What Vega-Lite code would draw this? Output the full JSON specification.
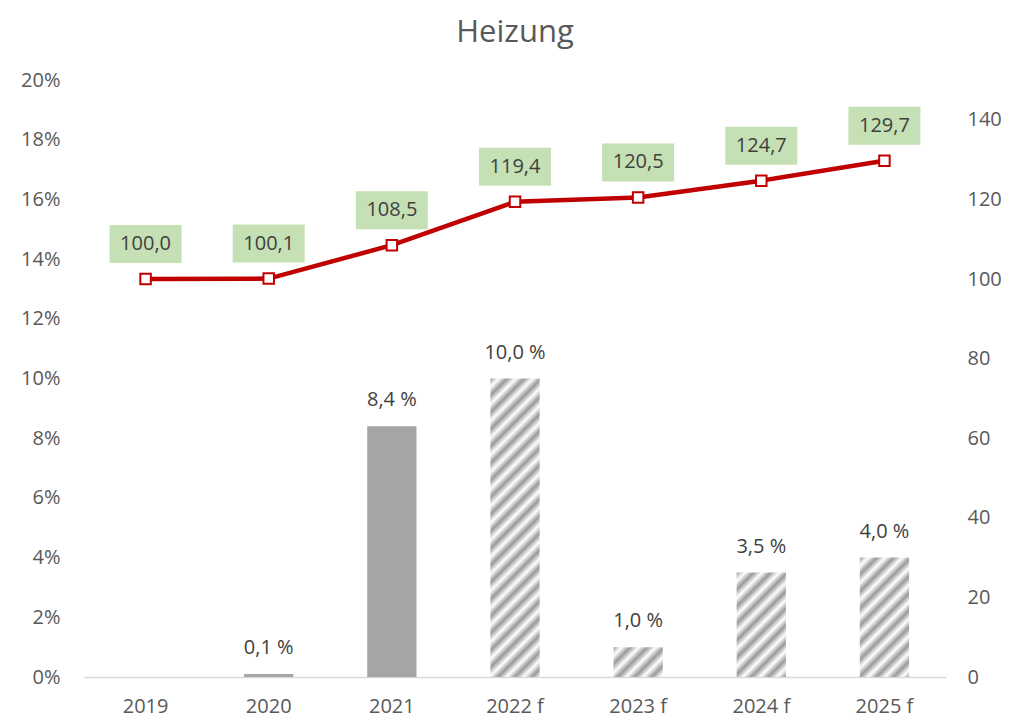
{
  "$schema": "https://vega.github.io/schema/vega-lite/v6.json",
  "width": 862,
  "height": 597,
  "autosize": {"type": "none"},
  "padding": {"left": 84, "top": 80, "right": 63, "bottom": 40},
  "background": "white",
  "title": {"text": "Heizung", "font": "Open Sans", "fontSize": 31, "fontWeight": "normal", "color": "#595959", "anchor": "middle", "frame": "group", "offset": 21},
  "config": {"view": {"stroke": null}, "font": "Open Sans"},
  "data": {"values": [
    {"year": "2019", "pct": 0, "pctLabel": "", "idx": 100.0, "idxLabel": "100,0", "forecast": false},
    {"year": "2020", "pct": 0.001, "pctLabel": "0,1 %", "idx": 100.1, "idxLabel": "100,1", "forecast": false},
    {"year": "2021", "pct": 0.084, "pctLabel": "8,4 %", "idx": 108.5, "idxLabel": "108,5", "forecast": false},
    {"year": "2022 f", "pct": 0.10, "pctLabel": "10,0 %", "idx": 119.4, "idxLabel": "119,4", "forecast": true},
    {"year": "2023 f", "pct": 0.01, "pctLabel": "1,0 %", "idx": 120.5, "idxLabel": "120,5", "forecast": true},
    {"year": "2024 f", "pct": 0.035, "pctLabel": "3,5 %", "idx": 124.7, "idxLabel": "124,7", "forecast": true},
    {"year": "2025 f", "pct": 0.04, "pctLabel": "4,0 %", "idx": 129.7, "idxLabel": "129,7", "forecast": true}
  ]},
  "encoding": {
    "x": {"field": "year", "type": "nominal", "sort": null, "title": null,
      "scale": {"paddingInner": 0.6, "paddingOuter": 0.3},
      "axis": {"labelAngle": 0, "labelFontSize": 20, "labelColor": "#595959", "labelPadding": 19, "ticks": false, "domainColor": "#d9d9d9", "domainWidth": 1.5, "grid": false}}
  },
  "layer": [
    {
      "encoding": {
        "y": {"field": "pct", "type": "quantitative", "title": null,
          "scale": {"domain": [0, 0.2], "nice": false, "zero": true},
          "axis": {"orient": "left", "values": [0, 0.02, 0.04, 0.06, 0.08, 0.1, 0.12, 0.14, 0.16, 0.18, 0.2], "format": ".0%", "labelFontSize": 20, "labelColor": "#595959", "labelPadding": 24, "ticks": false, "domain": false, "grid": false}}
      },
      "layer": [
        {"transform": [{"filter": "!datum.forecast"}], "mark": {"type": "bar", "color": "#a5a5a5"}},
        {"transform": [{"filter": "datum.year === '2022 f'"}], "mark": {"type": "bar", "color": {"gradient": "linear", "x1": 0, "y1": 0, "x2": 0.19213, "y2": 1.16427, "stops": [{"offset":0,"color":"#999999"},{"offset":0.0238,"color":"#ffffff"},{"offset":0.0476,"color":"#999999"},{"offset":0.0714,"color":"#ffffff"},{"offset":0.0952,"color":"#999999"},{"offset":0.119,"color":"#ffffff"},{"offset":0.1429,"color":"#999999"},{"offset":0.1667,"color":"#ffffff"},{"offset":0.1905,"color":"#999999"},{"offset":0.2143,"color":"#ffffff"},{"offset":0.2381,"color":"#999999"},{"offset":0.2619,"color":"#ffffff"},{"offset":0.2857,"color":"#999999"},{"offset":0.3095,"color":"#ffffff"},{"offset":0.3333,"color":"#999999"},{"offset":0.3571,"color":"#ffffff"},{"offset":0.381,"color":"#999999"},{"offset":0.4048,"color":"#ffffff"},{"offset":0.4286,"color":"#999999"},{"offset":0.4524,"color":"#ffffff"},{"offset":0.4762,"color":"#999999"},{"offset":0.5,"color":"#ffffff"},{"offset":0.5238,"color":"#999999"},{"offset":0.5476,"color":"#ffffff"},{"offset":0.5714,"color":"#999999"},{"offset":0.5952,"color":"#ffffff"},{"offset":0.619,"color":"#999999"},{"offset":0.6429,"color":"#ffffff"},{"offset":0.6667,"color":"#999999"},{"offset":0.6905,"color":"#ffffff"},{"offset":0.7143,"color":"#999999"},{"offset":0.7381,"color":"#ffffff"},{"offset":0.7619,"color":"#999999"},{"offset":0.7857,"color":"#ffffff"},{"offset":0.8095,"color":"#999999"},{"offset":0.8333,"color":"#ffffff"},{"offset":0.8571,"color":"#999999"},{"offset":0.881,"color":"#ffffff"},{"offset":0.9048,"color":"#999999"},{"offset":0.9286,"color":"#ffffff"},{"offset":0.9524,"color":"#999999"},{"offset":0.9762,"color":"#ffffff"},{"offset":1,"color":"#999999"}]}}},
        {"transform": [{"filter": "datum.year === '2023 f'"}], "mark": {"type": "bar", "color": {"gradient": "linear", "x1": 0, "y1": 0, "x2": 5.3008, "y2": 3.2121, "stops": [{"offset":0,"color":"#999999"},{"offset":0.0238,"color":"#ffffff"},{"offset":0.0476,"color":"#999999"},{"offset":0.0714,"color":"#ffffff"},{"offset":0.0952,"color":"#999999"},{"offset":0.119,"color":"#ffffff"},{"offset":0.1429,"color":"#999999"},{"offset":0.1667,"color":"#ffffff"},{"offset":0.1905,"color":"#999999"},{"offset":0.2143,"color":"#ffffff"},{"offset":0.2381,"color":"#999999"}]}}},
        {"transform": [{"filter": "datum.year === '2024 f'"}], "mark": {"type": "bar", "color": {"gradient": "linear", "x1": 0, "y1": 0, "x2": 1.3181, "y2": 2.7956, "stops": [{"offset":0,"color":"#999999"},{"offset":0.0238,"color":"#ffffff"},{"offset":0.0476,"color":"#999999"},{"offset":0.0714,"color":"#ffffff"},{"offset":0.0952,"color":"#999999"},{"offset":0.119,"color":"#ffffff"},{"offset":0.1429,"color":"#999999"},{"offset":0.1667,"color":"#ffffff"},{"offset":0.1905,"color":"#999999"},{"offset":0.2143,"color":"#ffffff"},{"offset":0.2381,"color":"#999999"},{"offset":0.2619,"color":"#ffffff"},{"offset":0.2857,"color":"#999999"},{"offset":0.3095,"color":"#ffffff"},{"offset":0.3333,"color":"#999999"},{"offset":0.3571,"color":"#ffffff"},{"offset":0.381,"color":"#999999"},{"offset":0.4048,"color":"#ffffff"},{"offset":0.4286,"color":"#999999"},{"offset":0.4524,"color":"#ffffff"}]}}},
        {"transform": [{"filter": "datum.year === '2025 f'"}], "mark": {"type": "bar", "color": {"gradient": "linear", "x1": 0, "y1": 0, "x2": 1.0541, "y2": 2.555, "stops": [{"offset":0,"color":"#999999"},{"offset":0.0238,"color":"#ffffff"},{"offset":0.0476,"color":"#999999"},{"offset":0.0714,"color":"#ffffff"},{"offset":0.0952,"color":"#999999"},{"offset":0.119,"color":"#ffffff"},{"offset":0.1429,"color":"#999999"},{"offset":0.1667,"color":"#ffffff"},{"offset":0.1905,"color":"#999999"},{"offset":0.2143,"color":"#ffffff"},{"offset":0.2381,"color":"#999999"},{"offset":0.2619,"color":"#ffffff"},{"offset":0.2857,"color":"#999999"},{"offset":0.3095,"color":"#ffffff"},{"offset":0.3333,"color":"#999999"},{"offset":0.3571,"color":"#ffffff"},{"offset":0.381,"color":"#999999"},{"offset":0.4048,"color":"#ffffff"},{"offset":0.4286,"color":"#999999"},{"offset":0.4524,"color":"#ffffff"},{"offset":0.4762,"color":"#999999"}]}}},
        {"mark": {"type": "text", "dy": -26, "baseline": "middle", "fontSize": 20, "color": "#404040", "font": "Open Sans"}, "encoding": {"text": {"field": "pctLabel"}}}
      ]
    },
    {
      "encoding": {
        "y": {"field": "idx", "type": "quantitative", "title": null,
          "scale": {"domain": [0, 150], "nice": false, "zero": true},
          "axis": {"orient": "right", "values": [0, 20, 40, 60, 80, 100, 120, 140], "labelFontSize": 20, "labelColor": "#595959", "labelPadding": 21, "labelAlign": "left", "ticks": false, "domain": false, "grid": false}}
      },
      "layer": [
        {"mark": {"type": "line", "color": "#c00000", "strokeWidth": 4.5}},
        {"mark": {"type": "bar", "color": "#c5e0b4", "width": 72, "yOffset": -54, "y2Offset": -16}, "encoding": {"y2": {"field": "idx"}}},
        {"mark": {"type": "point", "shape": "square", "filled": true, "fill": "white", "stroke": "#c00000", "strokeWidth": 2, "size": 110, "opacity": 1}},
        {"mark": {"type": "text", "dy": -35, "baseline": "middle", "fontSize": 20, "color": "#404040", "font": "Open Sans"}, "encoding": {"text": {"field": "idxLabel"}}}
      ]
    }
  ],
  "resolve": {"scale": {"y": "independent"}}
}
